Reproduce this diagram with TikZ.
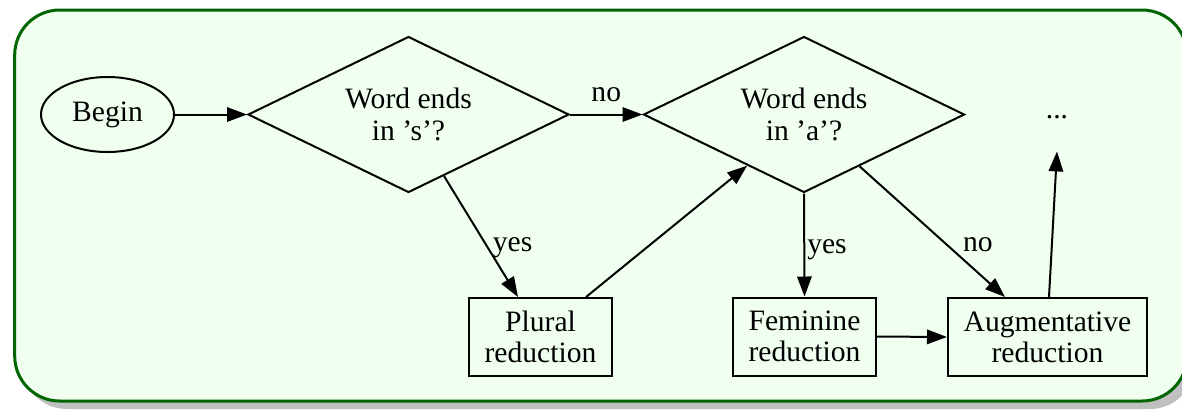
\documentclass[tikz,border=0pt]{standalone}
\usepackage{fontspec}
\setmainfont{Liberation Serif}
\usetikzlibrary{shapes.geometric}
\usetikzlibrary{arrows.meta}

\definecolor{framegreen}{HTML}{006400}
\definecolor{framefill}{HTML}{F0FFF0}

\begin{document}
\begin{tikzpicture}[
     x=0.5pt,y=-0.5pt,
     every node/.style={font=\fontsize{14.8}{15.6}\selectfont,align=center},
     startnode/.style={ellipse,draw,line width=1pt,inner sep=0pt,minimum width=66.5pt,minimum height=37.5pt},
     test/.style={diamond,draw,line width=1pt,aspect=2,inner sep=0pt,minimum width=160.5pt,minimum height=78pt},
     reduction/.style={rectangle,draw,line width=1pt,inner sep=0pt,minimum width=71.5pt,minimum height=39pt},
     lbl/.style={inner sep=1pt},
     flow/.style={line width=1pt,-{Triangle[length=10pt,width=7.2pt]}}
   ]
   \path[use as bounding box] (0,0) rectangle (1182,409);
   \clip (0,0) rectangle (1182,409);
   % Frame.
   \fill[black!25,rounded corners=22.5pt] (22,18) rectangle (1195,409);
   \draw[line width=1.5pt,framegreen,fill=framefill,rounded corners=22.5pt] (14.7,10) rectangle (1187,401);
   % Tests.
   \node[startnode] (begin) at (107.5,114.5) {Begin};
   \node[test] (ends-s) at (408.5,114.5) {Word ends\\in 's'?};
   \node[test] (ends-a) at (804,114.5) {Word ends\\in 'a'?};
   \node[text height=0.68em,text depth=0.22em,minimum height=37pt] (more) at (1057,114) {...};
   % Reductions.
   \node[reduction] (plural) at (540.5,337) {Plural\\reduction};
   \node[reduction] (feminine) at (804.5,336.5) {Feminine\\reduction};
   \node[reduction,minimum width=99.5pt] (augment) at (1047.5,337) {Augmentative\\reduction};
   % Edges.
   \draw[flow] (begin.east) -- (ends-s.west);
   \draw[flow] (ends-s.east) -- node[lbl,anchor=base,yshift=6.5pt] {no} (ends-a.west);
   \draw[flow] (ends-s.-60.4) -- node[lbl,pos=0.62,anchor=base west] {yes} ([xshift=-11.25pt]plural.north);
   \draw[flow] ([xshift=22.75pt]plural.north) -- (ends-a.-138.5);
   \draw[flow] (ends-a.south) -- node[lbl,pos=0.58,anchor=base west] {yes} (feminine.north);
   \draw[flow] (ends-a.-43.2) -- node[lbl,pos=0.65,anchor=base west,xshift=3pt] {no} ([xshift=-21.25pt]augment.north);
   \draw[flow] (feminine.east) -- (augment.west);
   \draw[flow] ([xshift=0.75pt]augment.north) -- (more.south);
 \end{tikzpicture}
\end{document}
